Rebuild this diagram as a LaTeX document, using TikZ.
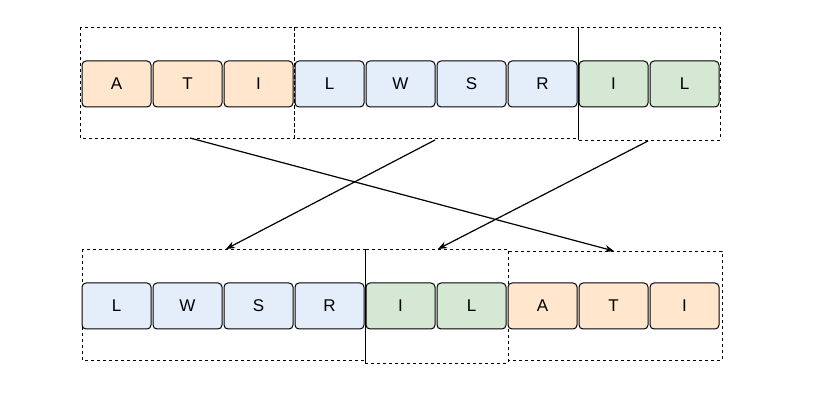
\documentclass[tikz,border=0pt]{standalone}
\usepackage{fontspec}
\setmainfont{Liberation Sans}
\usetikzlibrary{arrows.meta, positioning}
\definecolor{peach}{RGB}{255,230,204}
\definecolor{paleblue}{RGB}{228,237,250}
\definecolor{palegreen}{RGB}{213,232,212}
\tikzset{cellnode/.style={rectangle, rounded corners=4pt, draw=black, line width=1pt, minimum width=69pt, minimum height=46pt, inner sep=0pt, font=\fontsize{17pt}{17pt}\selectfont},
groupbox/.style={draw=black, dashed, line width=0.8pt}}

\begin{document}
\begin{tikzpicture}[x=1pt, y=-1pt, >={Stealth[length=9pt, width=7pt]}]
        \useasboundingbox (0,0) rectangle (830,411);
        % Groups
        \draw[groupbox] (80,27) rectangle (294,138);
        \draw[groupbox] (294,27) rectangle (578,138);
        \draw[groupbox] (578,27) rectangle (720,140);
        \draw[groupbox] (82,249) rectangle (365,360);
        \draw[groupbox] (365,249) rectangle (508,363);
        \draw[groupbox] (508,251) rectangle (722,360);
        \draw[line width=0.8pt] (578,27) -- (578,140);
        \draw[line width=0.8pt] (365,249) -- (365,363);
        % Top row
        \foreach \i/\t/\c in {0/A/peach, 1/T/peach, 2/I/peach, 3/L/paleblue, 4/W/paleblue, 5/S/paleblue, 6/R/paleblue, 7/I/palegreen, 8/L/palegreen} {
            \node[cellnode, fill=\c] (top\i) at (116.5+71*\i, 84) {\t};
        }
        % Bottom row
        \foreach \i/\t/\c in {0/L/paleblue, 1/W/paleblue, 2/S/paleblue, 3/R/paleblue, 4/I/palegreen, 5/L/palegreen, 6/A/peach, 7/T/peach, 8/I/peach} {
            \node[cellnode, fill=\c] (bot\i) at (116.5+71*\i, 306) {\t};
        }
        % Moves
        \coordinate (fromA) at (190,138);
        \coordinate (toA) at (614,251);
        \coordinate (fromL) at (435,140);
        \coordinate (toL) at (226,249);
        \coordinate (fromI) at (648,141);
        \coordinate (toI) at (438,249);
        \draw[->, line width=1.2pt] (fromA) -- (toA);
        \draw[->, line width=1.2pt] (fromL) -- (toL);
        \draw[->, line width=1.2pt] (fromI) -- (toI);
    \end{tikzpicture}
\end{document}
